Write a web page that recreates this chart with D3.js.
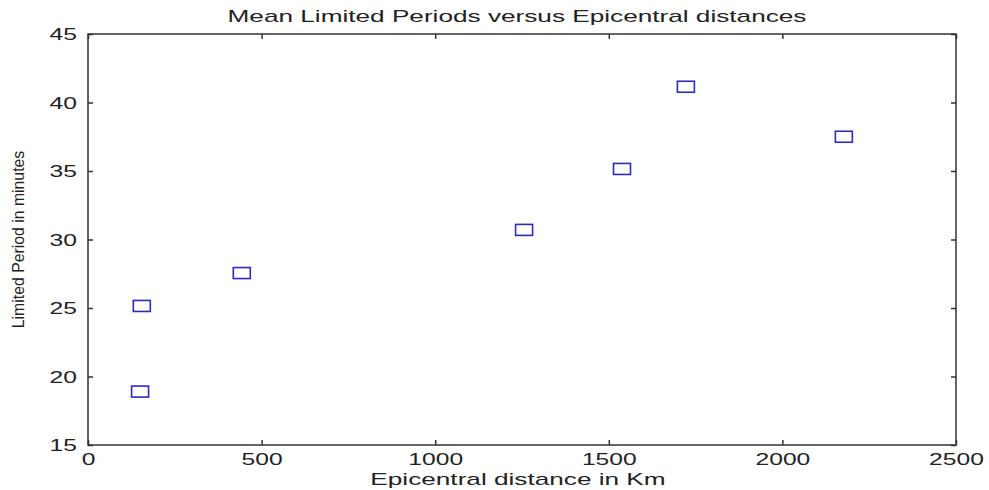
<!DOCTYPE html>
<html>
<head>
<meta charset="utf-8">
<script src="https://cdn.jsdelivr.net/npm/d3@7"></script>
<style>
  body { margin: 0; background: #fff; }
  text { font-family: 'Liberation Sans', Arial, sans-serif; fill: #222; }
</style>
</head>
<body>
<div id="grafica"></div>
<script>
// datos
distancia = [150, 155, 443, 1256, 1538, 1722, 2177]
periodo   = [18.9, 25.15, 27.55, 30.7, 35.15, 41.15, 37.5]
xTicks = [0, 500, 1000, 1500, 2000, 2500]
yTicks = [15, 20, 25, 30, 35, 40, 45]

titulo = 'Mean Limited Periods versus Epicentral distances'
xLabel = 'Epicentral distance in Km'
yLabel = 'Limited Period in minutes'

ancho_total = 989
alto_total  = 490
margin = { left: 88, right: 33, top: 34, bottom: 45 }
ancho = ancho_total - margin.left - margin.right
alto  = alto_total - margin.top - margin.bottom
sx = 1.45   // la imagen original esta estirada en horizontal
sxT = 1.54  // titulos

svg = d3.select('#grafica')
  .append('svg')
  .attr('width', ancho_total)
  .attr('height', alto_total)

g = svg.append('g')
  .attr('transform', `translate(${margin.left},${margin.top})`)

x = d3.scaleLinear().domain([0, 2500]).range([0, ancho])
y = d3.scaleLinear().domain([15, 45]).range([alto, 0])

// ejes con ticks hacia dentro
xGroup = g.append('g').attr('transform', `translate(0,${alto})`)
  .call(d3.axisBottom(x).tickValues(xTicks).tickFormat(d3.format('d'))
    .tickSizeInner(-5).tickSizeOuter(0).tickPadding(0))
xGroup.selectAll('text')
  .attr('y', 20).attr('dy', 0)
  .attr('font-size', '17px')
  .attr('transform', `scale(${sx},1)`)

yGroup = g.append('g')
  .call(d3.axisLeft(y).tickValues(yTicks).tickFormat(d3.format('d'))
    .tickSizeInner(-5).tickSizeOuter(0).tickPadding(0))
yGroup.selectAll('text')
  .attr('x', -11 / sx).attr('dy', '0.35em')
  .attr('font-size', '17px')
  .attr('transform', `scale(${sx},1)`)

// ticks espejo arriba y a la derecha
g.append('g')
  .call(d3.axisTop(x).tickValues(xTicks).tickSizeInner(-5).tickSizeOuter(0).tickFormat(''))
g.append('g').attr('transform', `translate(${ancho},0)`)
  .call(d3.axisRight(y).tickValues(yTicks).tickSizeInner(-5).tickSizeOuter(0).tickFormat(''))

g.selectAll('.domain').remove()
g.selectAll('.tick line').attr('stroke', '#333').attr('stroke-width', 1.5)
g.selectAll('.tick text').attr('fill', '#222')

// marco
g.append('rect')
  .attr('x', 0).attr('y', 0)
  .attr('width', ancho).attr('height', alto)
  .attr('fill', 'none')
  .attr('stroke', '#333')
  .attr('stroke-width', 1.5)

// puntos como cuadrados
datos = distancia.map((d, i) => ({ dist: d, per: periodo[i] }))
g.selectAll('rect.punto')
  .data(datos)
  .enter()
  .append('rect')
  .attr('class', 'punto')
  .attr('x', (d) => x(d.dist) - 8.5)
  .attr('y', (d) => y(d.per) - 5.5)
  .attr('width', 17)
  .attr('height', 11)
  .attr('fill', 'none')
  .attr('stroke', '#2b2bc0')
  .attr('stroke-width', 1.6)

// textos
svg.append('text')
  .attr('x', 517 / sxT).attr('y', 22)
  .attr('text-anchor', 'middle')
  .attr('font-size', '17px')
  .attr('transform', `scale(${sxT},1)`)
  .text(titulo)

svg.append('text')
  .attr('x', 518 / sxT).attr('y', 485)
  .attr('text-anchor', 'middle')
  .attr('font-size', '17px')
  .attr('transform', `scale(${sxT},1)`)
  .text(xLabel)

svg.append('text')
  .attr('transform', `translate(24,${margin.top + alto / 2}) rotate(-90) scale(0.93,1)`)
  .attr('text-anchor', 'middle')
  .attr('font-size', '17px')
  .text(yLabel)
</script>
</body>
</html>
